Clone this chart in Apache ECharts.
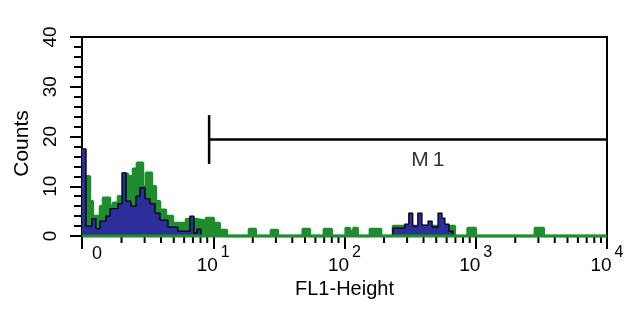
<!DOCTYPE html>
<html>
<head>
<meta charset="utf-8">
<script src="https://cdn.jsdelivr.net/npm/echarts@6/dist/echarts.min.js"></script>
<style>
  html, body { margin: 0; padding: 0; background: #fff; }
  #chart { width: 640px; height: 324px; }
</style>
</head>
<body>
<div id="chart"></div>
<script>
  // Histogram bins: left edge (FL1 value) and count, drawn as steps
  const greenEdges = [1, 1.15, 1.21, 1.37, 1.445, 1.635, 1.72, 1.88, 2.05, 2.24, 2.445, 2.62, 2.915, 3.07, 3.41, 3.66, 3.93, 4.36, 4.93, 6.2, 7.38, 8.8, 10.1, 11.2, 12.7, 18.7, 21.1, 27.5, 31.1, 48, 54.5, 69.6, 80, 102, 110, 117, 126, 156, 190, 234, 693, 866, 1000, 2820, 3300, 10000];
  const greenCounts = [12, 7, 4, 6, 7.7, 6, 6.7, 8, 12.5, 12, 13.5, 14.7, 10, 12.7, 10, 7, 5.3, 4, 2.6, 3.4, 3.0, 3.6, 2.6, 1.2, 0, 1.4, 0, 1.2, 0, 1.4, 0, 1.4, 0, 1.6, 1, 1.6, 0, 1.4, 0, 2, 0, 1.6, 0, 1.6, 0, 0];

  const blueEdges = [1, 1.073, 1.19, 1.278, 1.37, 1.52, 1.635, 1.88, 2.02, 2.165, 2.36, 2.58, 2.765, 3.02, 3.29, 3.6, 3.93, 4.52, 5.38, 6.64, 7.13, 7.51, 8.06, 234, 288, 309, 331, 362, 389, 433, 465, 516, 553, 582, 625, 670, 10000];
  const blueCounts = [17.5, 2, 3.5, 1.5, 3, 4, 5.5, 6.5, 12.7, 7, 6, 8, 9.7, 7.5, 6.5, 4.6, 3.2, 1.8, 1, 4, 0.6, 1.4, 0, 1.6, 2.4, 4.6, 2, 4.6, 2.2, 3, 1.8, 4.6, 3.6, 2.4, 1, 0, 0];

  // log axis minor ticks (2..9 in each decade)
  const minorTicks = [2, 3, 4, 5, 6, 7, 8, 9, 20, 30, 40, 50, 60, 70, 80, 90, 200, 300, 400, 500, 600, 700, 800, 900, 2000, 3000, 4000, 5000, 6000, 7000, 8000, 9000];
  const decadeLabels = { 1: '0', 10: '1', 100: '2', 1000: '3', 10000: '4' };
  const xRange = [1, 10000];

  // M1 marker
  const m1Range = [9.3, 10000];
  const m1Level = 19.4;
  const m1Half = 4.9;
  const m1Label = [432, 15.2];

  const green = '#1f8c30';
  const blue = '#2c2e9c';
  const font = 'Liberation Sans, Arial, Helvetica, sans-serif';

  const chart = echarts.init(document.getElementById('chart'));

  chart.setOption({
    backgroundColor: '#fff',
    animation: false,
    grid: {
      left: 82, right: 33, top: 37, bottom: 88,
      show: true, borderColor: '#000', borderWidth: 2
    },
    xAxis: {
      type: 'log',
      logBase: 10,
      min: xRange[0],
      max: xRange[1],
      name: 'FL1-Height',
      nameLocation: 'middle',
      nameGap: 33,
      nameTextStyle: { color: '#000', fontSize: 20, fontFamily: font },
      axisLine: { lineStyle: { color: '#000', width: 2 } },
      axisTick: { length: 13, lineStyle: { color: '#000', width: 2 } },
      splitLine: { show: false },
      axisLabel: {
        margin: 9,
        showMinLabel: true,
        showMaxLabel: true,
        formatter: function (v) {
          const e = decadeLabels[Math.round(v)];
          if (e === '0') return '{z|0}';
          return '{b|10}{s|' + e + '}';
        },
        rich: {
          z: { fontSize: 18, fontFamily: font, color: '#000', lineHeight: 18, verticalAlign: 'top', padding: [0, 0, 0, 30] },
          b: { fontSize: 19, fontFamily: font, color: '#000', lineHeight: 30, verticalAlign: 'bottom' },
          s: { fontSize: 16, fontFamily: font, color: '#000', lineHeight: 16, verticalAlign: 'top', padding: [0, 0, 0, 3] }
        }
      }
    },
    yAxis: {
      type: 'value',
      min: 0,
      max: 40,
      interval: 10,
      name: 'Counts',
      nameLocation: 'middle',
      nameGap: 42,
      nameTextStyle: { color: '#000', fontSize: 21, fontFamily: font, padding: [0, 14, 0, 0] },
      axisLine: { show: true, lineStyle: { color: '#000', width: 2 } },
      axisTick: { show: true, length: 12, lineStyle: { color: '#000', width: 2 } },
      minorTick: { show: true, splitNumber: 5, length: 8, lineStyle: { color: '#000', width: 2 } },
      splitLine: { show: false },
      axisLabel: { rotate: 90, margin: 22, fontSize: 19, fontFamily: font, color: '#000' }
    },
    series: [
      {
        type: 'line',
        step: 'end',
        symbol: 'none',
        clip: false,
        data: greenEdges.map((x, i) => [x, greenCounts[i]]),
        lineStyle: { color: green, width: 2.5 },
        areaStyle: { color: green, opacity: 1 },
        z: 2
      },
      {
        type: 'line',
        step: 'end',
        symbol: 'none',
        clip: false,
        data: blueEdges.map((x, i) => [x, blueCounts[i]]),
        lineStyle: { color: '#000', width: 1.3 },
        areaStyle: { color: blue, opacity: 1 },
        z: 3
      },
      {
        // green zero level runs over everything
        type: 'line',
        symbol: 'none',
        clip: false,
        data: [[xRange[0], 0], [xRange[1], 0]],
        lineStyle: { color: green, width: 3 },
        z: 5
      },
      {
        type: 'custom',
        clip: false,
        silent: true,
        data: minorTicks.map(v => [v, 0]),
        renderItem: function (params, api) {
          const p = api.coord([api.value(0), 0]);
          return {
            type: 'line',
            shape: { x1: p[0], y1: p[1], x2: p[0], y2: p[1] + 7 },
            style: { stroke: '#000', lineWidth: 2 }
          };
        },
        z: 1
      },
      {
        type: 'line',
        symbol: 'none',
        clip: false,
        data: [[m1Range[0], m1Level], [m1Range[1], m1Level]],
        lineStyle: { color: '#000', width: 2.5 },
        z: 4
      },
      {
        type: 'line',
        symbol: 'none',
        clip: false,
        data: [[m1Range[0], m1Level - m1Half], [m1Range[0], m1Level + m1Half]],
        lineStyle: { color: '#000', width: 2.5 },
        z: 4
      },
      {
        type: 'scatter',
        symbolSize: 0,
        data: [m1Label],
        label: {
          show: true,
          position: 'inside',
          formatter: '{m|M}{n|1}',
          rich: {
            m: { fontSize: 21, fontFamily: font, color: '#000' },
            n: { fontSize: 21, fontFamily: font, color: '#000', padding: [0, 0, 0, 4] }
          }
        },
        z: 4
      }
    ]
  });
</script>
</body>
</html>
